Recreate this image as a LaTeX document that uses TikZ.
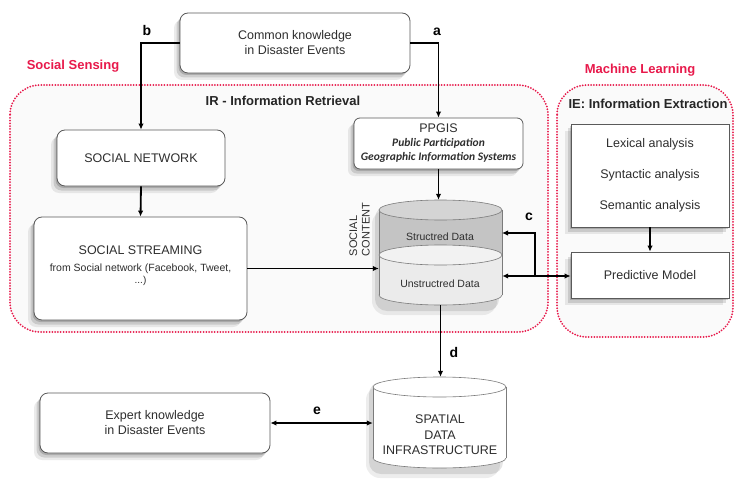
\documentclass[tikz,border=0pt]{standalone}
\usepackage{fontspec}
\setmainfont{Liberation Sans}
\newfontfamily\calib{Carlito}
\usetikzlibrary{arrows.meta,shadows}
\definecolor{ssred}{HTML}{E8194B}
\definecolor{txt}{HTML}{2E2E2E}
\definecolor{edge}{HTML}{5A5A5A}
\begin{document}
\begin{tikzpicture}[x=1pt,y=-1pt,
  shd/.style={
    drop shadow={shadow xshift=-1.5pt,shadow yshift=-2pt,opacity=.16,fill=black},
    drop shadow={shadow xshift=-3.5pt,shadow yshift=-4.5pt,opacity=.12,fill=black},
    drop shadow={shadow xshift=-6pt,shadow yshift=-7pt,opacity=.08,fill=black}},
  rbox/.style={shd,draw=edge,line width=0.8pt,fill=white,rounded corners=8pt,
    align=center,text=txt,font=\fontsize{12.5}{15}\selectfont,inner sep=0pt},
  sbox/.style={shd,draw=edge,line width=0.8pt,fill=white,
    align=center,text=txt,font=\fontsize{12.5}{15}\selectfont,inner sep=0pt},
  reddot/.style={draw=ssred,line width=2pt,line cap=round,dash pattern=on 0pt off 2.8pt},
  redlbl/.style={text=ssred,font=\fontsize{13}{15}\selectfont\bfseries,inner sep=0pt},
  hdr/.style={text=black!85,font=\fontsize{13}{15}\selectfont\bfseries,inner sep=0pt},
  letter/.style={text=black,font=\fontsize{14}{16}\selectfont\bfseries,inner sep=0pt},
  arr/.style={line width=1.8pt,-{Latex[length=6pt,width=5.5pt]}},
  arrb/.style={line width=1.8pt,{Latex[length=6pt,width=5.5pt]}-{Latex[length=6pt,width=5.5pt]}},
  small/.style={text=txt,font=\fontsize{10.5}{13}\selectfont,inner sep=0pt,align=center}
]
\fill[white] (0,0) rectangle (735,489);
\useasboundingbox (0,0) rectangle (735,489);

% regions
\draw[reddot,fill=black!2,rounded corners=30pt] (10,85) rectangle (548,332);
\draw[reddot,fill=black!2,rounded corners=30pt] (557,85) rectangle (733,337);

\node[redlbl] (lss) at (73,66) {Social Sensing};
\node[redlbl] (lml) at (640,70) {Machine Learning};
\node[hdr] (lir) at (283,101) {IR - Information Retrieval};
\node[hdr] (lie) at (648,104) {IE: Information Extraction};

% boxes
\node[rbox,minimum width=230pt,minimum height=60pt] (common) at (295,43)
  {Common knowledge\\in Disaster Events};
\node[rbox,minimum width=168pt,minimum height=56pt] (sn) at (141,158) {SOCIAL NETWORK};
\node[rbox,minimum width=213pt,minimum height=103pt] (ss) at (140.5,268.5) {};
\node[align=center,inner sep=0pt,text=txt] (sstxt) at (140.5,266)
  {\fontsize{12.5}{15}\selectfont SOCIAL STREAMING\\[5pt]
   \fontsize{10.5}{13}\selectfont from Social network (Facebook, Tweet,\\ ...)};
\node[rbox,minimum width=169pt,minimum height=51pt,rounded corners=6pt] (ppgis) at (438.5,143.5)
  {PPGIS\\[-1pt]{\calib\fontsize{11.5}{14}\selectfont\bfseries\itshape Public Participation}\\[-1pt]
   {\calib\fontsize{11.5}{14}\selectfont\bfseries\itshape Geographic Information Systems}};
\node[sbox,minimum width=158pt,minimum height=103pt] (ie) at (650,175.5)
  {Lexical analysis\\[16pt]Syntactic analysis\\[16pt]Semantic analysis};
\node[sbox,minimum width=158pt,minimum height=46pt] (pm) at (650,275) {Predictive Model};
\node[rbox,minimum width=230pt,minimum height=60pt] (expert) at (155,423)
  {Expert knowledge\\in Disaster Events};

% social content cylinder
\fill[black,opacity=.10,rounded corners=12pt] (375,206) rectangle (499,311);
\fill[black,opacity=.07,rounded corners=14pt] (372,210) rectangle (497,315);
\fill[black!23!white] (379,210) rectangle (502,255);
\draw[edge!80,line width=0.6pt] (379,210) -- (379,255) (502,210) -- (502,255);
\filldraw[fill=black!17!white,draw=edge!80,line width=0.6pt] (440.5,210) ellipse [x radius=61.5, y radius=10];
\filldraw[fill=black!8!white,draw=edge!80,line width=0.6pt] (440.5,295) ellipse [x radius=61.5, y radius=10];
\fill[black!8!white] (379,255) rectangle (502,295);
\draw[edge!80,line width=0.6pt] (379,255) -- (379,295) (502,255) -- (502,295);
\filldraw[fill=black!5!white,draw=edge!80,line width=0.6pt] (440.5,255) ellipse [x radius=61.5, y radius=10];
\node[inner sep=0pt,minimum width=123pt,minimum height=105pt] (sc) at (440.5,252.5) {};
\node[small] (sdat) at (440,237) {Structred Data};
\node[small] (udat) at (440,284) {Unstructred Data};
\node[rotate=90,align=left,inner sep=0pt,text=txt,font=\fontsize{11}{12.5}\selectfont] (sclbl) at (359.5,229.5) {SOCIAL\\CONTENT};

% spatial data infrastructure cylinder
\fill[black,opacity=.10,rounded corners=12pt] (369,382) rectangle (503,474);
\fill[black,opacity=.07,rounded corners=14pt] (366,386) rectangle (500,478);
\filldraw[fill=white,draw=edge!80,line width=0.6pt] (439.5,458) ellipse [x radius=66.5, y radius=10];
\fill[white] (373,387) rectangle (506,458);
\draw[edge!80,line width=0.6pt] (373,387) -- (373,458) (506,387) -- (506,458);
\filldraw[fill=white,draw=edge!80,line width=0.6pt] (439.5,387) ellipse [x radius=66.5, y radius=10];
\node[inner sep=0pt,minimum width=133pt,minimum height=91pt] (sdi) at (439.5,422.5) {};
\node[align=center,inner sep=0pt,text=txt,font=\fontsize{12.5}{15.5}\selectfont] (sditxt) at (440,435)
  {SPATIAL\\DATA\\INFRASTRUCTURE};

% connectors
\draw[arr] (common.west) -| (sn.north);
\draw[arr] (common.east) -| (ppgis.north);
\draw[arr] (sn.south) -- (ss.north);
\draw[arr] (ss.east) -- (ss.east -| sc.west);
\draw[arr] (ppgis.south) -- (ppgis.south |- sc.north);
\coordinate (cj) at (535,276);
\coordinate (cs) at (502,233);
\draw[arrb] (cj -| sc.east) -- (cj -| pm.west);
\draw[arr] (cj) |- (cs);
\draw[arr] (ie.south) -- (pm.north);
\draw[arr] (sc.south) -- (sc.south |- sdi.north);
\draw[arrb] (expert.east) -- (expert.east -| sdi.west);

\node[letter] (lb) at (147,30) {b};
\node[letter] (la) at (437,32) {a};
\node[letter] (lc) at (529,217) {c};
\node[letter] (ld) at (454,352) {d};
\node[letter] (le) at (317,411) {e};
\end{tikzpicture}
\end{document}
